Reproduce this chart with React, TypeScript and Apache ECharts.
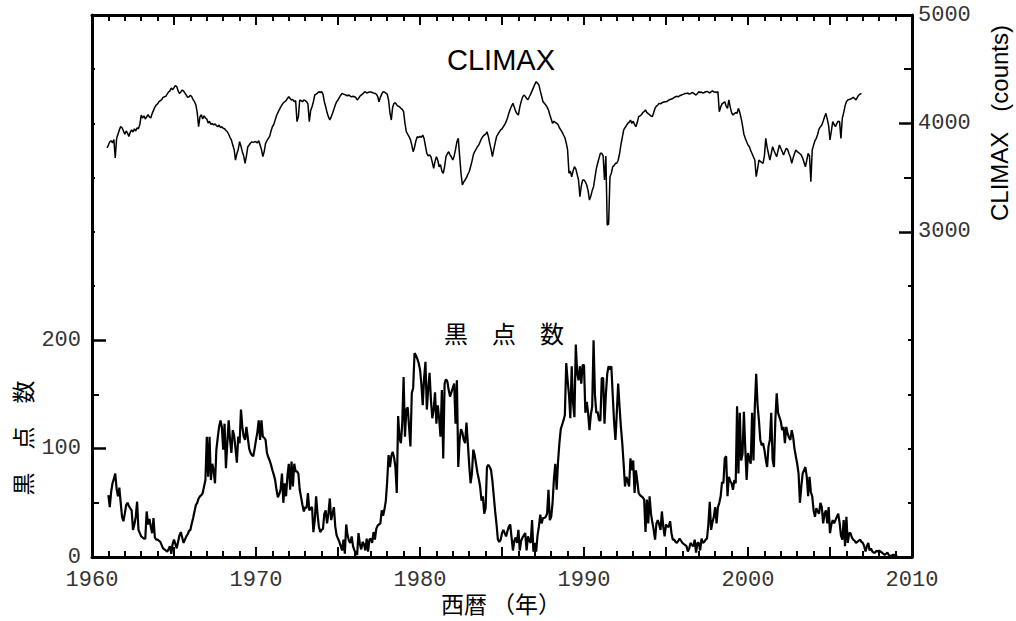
import React, { useEffect, useRef } from 'react';
import * as echarts from 'echarts';

// ---- Data ----
const yearLabels = [1960, 1970, 1980, 1990, 2000, 2010];
const sunspotLabels = [0, 100, 200];
const sunspotMinorTicks = [50, 150];
const sunspotTinyTicks = [250, 300, 350, 400, 450];
const climaxLabels = [3000, 4000, 5000];
const climaxMinorTicks = [3500, 4500];
const climaxTinyTicks = [500, 1000, 1500, 2000, 2500];

// Monthly sunspot numbers, starting January 1961
const sunspotStart = 1961;
const sunspot1961to1970 = [
  57, 46, 60, 68, 72, 77, 63, 56, 64, 50, 37, 33,
  40, 48, 50, 47, 45, 43, 25, 30, 37, 51, 25, 22,
  19, 18, 17, 17, 42, 30, 35, 28, 22, 36, 18, 16,
  16, 15, 14, 11, 8, 7, 6, 5, 7, 10, 3, 12,
  16, 12, 8, 14, 20, 23, 18, 13, 16, 19, 21, 24,
  25, 31, 36, 42, 48, 50, 54, 56, 57, 59, 65, 71,
  111, 74, 111, 71, 86, 80, 68, 99, 110, 120, 126, 120,
  99, 123, 82, 105, 126, 108, 96, 117, 112, 100, 87, 111,
  105, 136, 120, 111, 108, 120, 110, 100, 96, 94, 93, 100,
  108, 115, 126, 108, 126, 111, 110, 108, 96, 92, 89, 85,
];
const sunspot1971to1980 = [
  80, 76, 71, 62, 55, 58, 62, 77, 50, 68, 56, 75,
  86, 62, 88, 65, 86, 79, 79, 77, 62, 55, 48, 42,
  46, 45, 59, 43, 45, 46, 23, 34, 56, 40, 28, 23,
  25, 26, 40, 43, 31, 40, 54, 34, 40, 46, 28, 20,
  17, 14, 10, 6, 16, 3, 30, 20, 15, 13, 19, 10,
  6, 4, 2, 22, 12, 7, 14, 12, 6, 17, 5, 16,
  17, 13, 23, 16, 26, 29, 30, 31, 43, 38, 44, 52,
  70, 94, 83, 93, 97, 92, 83, 59, 130, 110, 105, 123,
  166, 111, 136, 138, 120, 102, 151, 156, 188, 186, 183, 179,
  173, 160, 140, 165, 180, 136, 155, 170, 145, 128, 136, 152,
];
const sunspot1981to1990 = [
  123, 140, 128, 111, 154, 91, 160, 164, 162, 154, 148, 152,
  156, 160, 123, 163, 83, 108, 118, 115, 108, 105, 124, 105,
  85, 68, 77, 99, 94, 86, 78, 72, 65, 52, 56, 40,
  45, 83, 85, 83, 80, 70, 56, 42, 30, 16, 14, 16,
  22, 25, 22, 19, 24, 28, 30, 18, 6, 15, 18, 13,
  25, 6, 15, 18, 20, 22, 6, 19, 15, 13, 34, 5,
  13, 5, 20, 28, 39, 31, 36, 36, 37, 40, 62, 34,
  37, 50, 72, 86, 62, 88, 105, 118, 122, 126, 131, 179,
  163, 150, 128, 176, 142, 129, 196, 170, 163, 176, 160, 177,
  177, 133, 143, 133, 117, 131, 139, 200, 150, 133, 134, 126,
];
const sunspot1991to2000 = [
  126, 165, 165, 123, 150, 169, 176, 173, 176, 150, 125, 108,
  133, 160, 139, 120, 105, 86, 65, 74, 70, 65, 91, 80,
  89, 59, 80, 70, 59, 57, 56, 55, 53, 23, 53, 31,
  56, 40, 32, 25, 16, 31, 34, 30, 25, 42, 28, 19,
  30, 28, 28, 33, 22, 16, 16, 14, 13, 15, 17, 15,
  13, 12, 11, 10, 5, 8, 13, 11, 10, 16, 4, 13,
  13, 6, 17, 13, 14, 16, 17, 30, 51, 25, 32, 37,
  46, 31, 46, 50, 56, 69, 68, 91, 93, 56, 74, 70,
  68, 62, 71, 68, 139, 77, 133, 89, 95, 134, 100, 71,
  96, 90, 86, 133, 89, 139, 169, 140, 126, 108, 103, 105,
];
const sunspot2001to2009 = [
  99, 90, 83, 102, 108, 133, 90, 83, 126, 151, 133, 129,
  125, 117, 120, 105, 120, 114, 110, 108, 117, 111, 100, 93,
  86, 77, 50, 65, 77, 80, 83, 74, 56, 74, 60, 56,
  43, 37, 45, 42, 40, 50, 46, 31, 40, 43, 31, 46,
  22, 30, 34, 31, 34, 37, 40, 32, 20, 16, 34, 10,
  37, 13, 22, 22, 18, 16, 15, 13, 14, 15, 16, 14,
  13, 10, 5, 10, 13, 6, 8, 5, 4, 4, 6, 5,
  6, 5, 4, 3, 2, 3, 4, 2, 1, 1, 2, 2,
  1, 2,
];

// Monthly CLIMAX neutron monitor counts, starting December 1960
const climaxStart = 1960 + 11 / 12;
const climax1960to1970 = [
  3773,
  3800, 3830, 3840, 3820, 3850, 3681, 3860, 3900, 3940, 3970, 3960, 3930,
  3900, 3930, 3910, 3880, 3920, 3940, 3920, 3950, 3930, 3960, 3950, 3990,
  4077, 4050, 4070, 4040, 4060, 4080, 4060, 4050, 4090, 4120, 4150, 4170,
  4180, 4200, 4210, 4220, 4240, 4246, 4250, 4270, 4290, 4300, 4326, 4310,
  4330, 4348, 4340, 4300, 4277, 4290, 4308, 4300, 4280, 4260, 4240, 4246,
  4260, 4246, 4220, 4200, 4170, 4100, 3970, 4060, 4080, 4040, 4070, 4050,
  4040, 4004, 4020, 3990, 4000, 3985, 3995, 3980, 3970, 3985, 3960, 3970,
  3955, 3950, 3935, 3923, 3900, 3870, 3847, 3800, 3760, 3662, 3720, 3760,
  3831, 3790, 3739, 3700, 3632, 3700, 3785, 3800, 3819, 3830, 3825, 3830,
  3830, 3820, 3840, 3800, 3760, 3693, 3740, 3816, 3840, 3862, 3880, 3930,
];
const climax1971to1980 = [
  3970, 3990, 4030, 4070, 4100, 4124, 4150, 4170, 4190, 4200, 4210, 4230,
  4246, 4230, 4216, 4220, 4200, 4210, 4016, 4060, 4216, 4210, 4200, 4216,
  4210, 4200, 4180, 4016, 4120, 4154, 4200, 4262, 4270, 4280, 4292, 4285,
  4292, 4270, 4200, 4154, 4100, 4060, 4031, 4060, 4093, 4130, 4170, 4200,
  4216, 4240, 4260, 4277, 4270, 4265, 4260, 4255, 4262, 4250, 4245, 4250,
  4246, 4240, 4216, 4230, 4250, 4262, 4270, 4285, 4292, 4280, 4285, 4290,
  4290, 4285, 4280, 4277, 4270, 4250, 4200, 4240, 4270, 4292, 4290, 4280,
  4270, 4216, 4100, 4031, 4150, 4185, 4190, 4170, 4160, 4154, 4140, 4130,
  4108, 4000, 3923, 3900, 3877, 3850, 3800, 3739, 3780, 3840, 3877, 3870,
  3880, 3870, 3893, 3860, 3790, 3724, 3700, 3710, 3693, 3640, 3585, 3650,
];
const climax1981to1990 = [
  3693, 3660, 3600, 3620, 3560, 3540, 3600, 3693, 3720, 3739, 3710, 3690,
  3662, 3700, 3760, 3830, 3862, 3700, 3540, 3432, 3460, 3478, 3500, 3530,
  3554, 3600, 3650, 3708, 3740, 3760, 3785, 3800, 3830, 3860, 3880, 3893,
  3900, 3923, 3880, 3816, 3760, 3693, 3760, 3820, 3877, 3900, 3920, 3940,
  3950, 3970, 3990, 4016, 4050, 4093, 4130, 4160, 4185, 4150, 4110, 4090,
  4077, 4150, 4200, 4240, 4262, 4250, 4230, 4220, 4246, 4270, 4300, 4330,
  4360, 4385, 4370, 4354, 4300, 4250, 4200, 4185, 4170, 4150, 4124, 4080,
  4040, 4000, 4020, 4010, 4000, 3990, 3960, 3940, 3920, 3893, 3870, 3820,
  3755, 3540, 3560, 3508, 3560, 3600, 3580, 3530, 3478, 3324, 3420, 3478,
  3478, 3460, 3432, 3380, 3293, 3330, 3380, 3416, 3500, 3580, 3632, 3680,
];
const climax1991to2000 = [
  3724, 3724, 3700, 3478, 3700, 3063, 3070, 3508, 3540, 3600, 3610, 3632,
  3632, 3660, 3720, 3801, 3870, 3939, 3960, 3980, 4000, 4010, 4031, 4000,
  4020, 3990, 3970, 4010, 4062, 4070, 4080, 4100, 4110, 4124, 4100, 4090,
  4080, 4070, 4062, 4100, 4140, 4160, 4170, 4185, 4180, 4190, 4195, 4200,
  4200, 4205, 4215, 4220, 4225, 4230, 4240, 4246, 4250, 4245, 4255, 4260,
  4265, 4270, 4277, 4275, 4280, 4270, 4275, 4285, 4280, 4270, 4262, 4275,
  4292, 4285, 4290, 4280, 4285, 4292, 4295, 4290, 4280, 4292, 4300, 4290,
  4290, 4285, 4292, 4108, 4150, 4180, 4190, 4200, 4160, 4139, 4216, 4150,
  4100, 4077, 4090, 4100, 4093, 4139, 4100, 4047, 3980, 3900, 3862, 3830,
  3800, 3785, 3750, 3720, 3690, 3662, 3508, 3580, 3662, 3650, 3640, 3632,
];
const climax2001to2006 = [
  3700, 3862, 3780, 3720, 3662, 3720, 3785, 3750, 3720, 3693, 3750, 3801,
  3770, 3740, 3708, 3740, 3770, 3760, 3720, 3690, 3632, 3680, 3720, 3755,
  3740, 3730, 3720, 3708, 3680, 3640, 3600, 3660, 3724, 3700, 3462, 3755,
  3800, 3840, 3862, 3900, 3950, 3970, 3985, 4020, 4060, 4093, 4040, 3980,
  3847, 3930, 4016, 3990, 3970, 4000, 4020, 4016, 3862, 4047, 4100, 4160,
  4200, 4216, 4220, 4225, 4231, 4240, 4230, 4216, 4240, 4260, 4270, 4277,
];

const sunspot = [
  ...sunspot1961to1970, ...sunspot1971to1980, ...sunspot1981to1990,
  ...sunspot1991to2000, ...sunspot2001to2009,
];
const climax = [
  ...climax1960to1970, ...climax1971to1980, ...climax1981to1990,
  ...climax1991to2000, ...climax2001to2006,
];

const MONO = "'Liberation Mono', 'Courier New', monospace";
const SANS = "'Liberation Sans', Arial, sans-serif";
const CJK = "'Noto Sans CJK JP', 'Noto Sans CJK SC', sans-serif";

const plain = (v: number) => String(Math.round(v));

function tickAxisY(position: 'left' | 'right', max: number, values: number[], length: number) {
  return {
    type: 'value',
    position,
    min: 0,
    max,
    interval: max / 5,
    axisLine: { show: false },
    axisTick: { show: true, inside: true, length, customValues: values, lineStyle: { color: '#000', width: 2 } },
    axisLabel: { show: false },
    splitLine: { show: false },
  };
}

export default function App() {
  const ref = useRef<HTMLDivElement>(null);
  useEffect(() => {
    if (!ref.current) return;
    const chart = echarts.init(ref.current, undefined, { renderer: 'svg' });
    const sunspotData = sunspot.map((v, i) => [sunspotStart + i / 12, v]);
    const climaxData = climax.map((v, i) => [climaxStart + i / 12, v]);

    const xCommon = (position: 'top' | 'bottom', showLabel: boolean) => ({
      type: 'value',
      position,
      min: 1960,
      max: 2010,
      interval: 5,
      axisLine: { show: true, onZero: false, lineStyle: { color: '#000', width: 3 } },
      axisTick: { show: true, inside: true, length: 10, lineStyle: { color: '#000', width: 2 } },
      minorTick: { show: true, splitNumber: 5, length: 6, lineStyle: { color: '#000', width: 2 } },
      axisLabel: {
        show: showLabel,
        customValues: yearLabels,
        formatter: plain,
        fontFamily: MONO,
        fontSize: 22,
        color: '#333',
        margin: 12,
      },
      splitLine: { show: false },
      minorSplitLine: { show: false },
    });

    const option: any = {
      animation: false,
      backgroundColor: '#ffffff',
      grid: { left: 92, top: 15, width: 820, height: 542, containLabel: false, outerBoundsMode: 'none' },
      xAxis: [xCommon('bottom', true), xCommon('top', false)],
      yAxis: [
        {
          type: 'value',
          position: 'left',
          min: 0,
          max: 500,
          interval: 100,
          axisLine: { show: true, onZero: false, lineStyle: { color: '#000', width: 3 } },
          axisTick: { show: true, inside: true, length: 14, customValues: sunspotLabels, lineStyle: { color: '#000', width: 2.5 } },
          axisLabel: { customValues: sunspotLabels, formatter: plain, fontFamily: MONO, fontSize: 22, color: '#333', margin: 11 },
          splitLine: { show: false },
        },
        tickAxisY('left', 500, sunspotMinorTicks, 7),
        tickAxisY('left', 500, sunspotTinyTicks, 3),
        {
          type: 'value',
          position: 'right',
          min: 0,
          max: 5000,
          interval: 1000,
          axisLine: { show: true, onZero: false, lineStyle: { color: '#000', width: 3 } },
          axisTick: { show: true, inside: true, length: 13, customValues: climaxLabels, lineStyle: { color: '#000', width: 2.5 } },
          axisLabel: { customValues: climaxLabels, formatter: plain, fontFamily: MONO, fontSize: 22, color: '#333', margin: 6 },
          splitLine: { show: false },
        },
        tickAxisY('right', 5000, climaxMinorTicks, 8),
        tickAxisY('right', 5000, climaxTinyTicks, 4),
      ],
      series: [
        {
          name: '黒点数',
          type: 'line',
          xAxisIndex: 0,
          yAxisIndex: 0,
          data: sunspotData,
          showSymbol: false,
          symbol: 'none',
          lineStyle: { color: '#000', width: 2.2 },
        },
        {
          name: 'CLIMAX',
          type: 'line',
          xAxisIndex: 0,
          yAxisIndex: 3,
          data: climaxData,
          showSymbol: false,
          symbol: 'none',
          lineStyle: { color: '#000', width: 1.5 },
        },
      ],
      graphic: [
        {
          type: 'text', x: 501, y: 60,
          style: { text: 'CLIMAX', fontFamily: SANS, fontSize: 29, fill: '#000', align: 'center', verticalAlign: 'middle' },
        },
        {
          type: 'text', x: 504, y: 332,
          style: { text: '黒　点　数', fontFamily: CJK, fontSize: 24, fill: '#000', align: 'center', verticalAlign: 'middle' },
        },
        {
          type: 'text', x: 22, y: 438, rotation: Math.PI / 2,
          style: { text: '黒　点　数', fontFamily: CJK, fontSize: 23, fill: '#000', align: 'center', verticalAlign: 'middle' },
        },
        {
          type: 'text', x: 999, y: 123, rotation: Math.PI / 2,
          style: { text: 'CLIMAX   (counts)', fontFamily: SANS, fontSize: 24, fill: '#000', align: 'center', verticalAlign: 'middle' },
        },
        {
          type: 'text', x: 501, y: 603,
          style: { text: '西暦 （年）', fontFamily: CJK, fontSize: 23, fill: '#000', align: 'center', verticalAlign: 'middle' },
        },
      ],
    };
    chart.setOption(option);
    return () => chart.dispose();
  }, []);
  return (
    <div
      ref={ref}
      style={{ position: 'fixed', left: 0, top: 0, width: 1016, height: 621, background: '#fff' }}
    />
  );
}
